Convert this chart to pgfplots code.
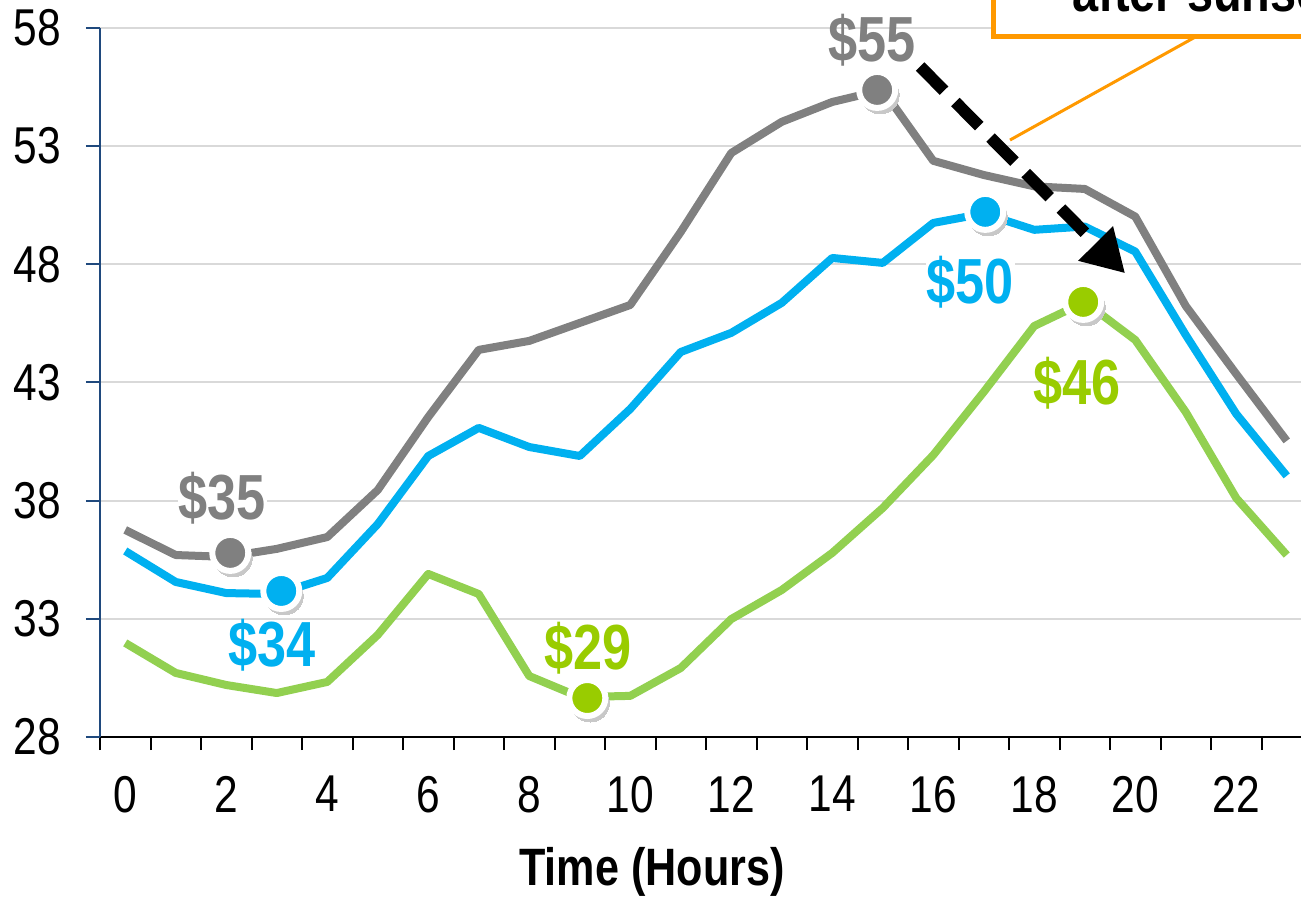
\documentclass[border=0pt]{standalone}
\usepackage{pgfplots}
\pgfplotsset{compat=1.18}
\usepackage{pgfplotstable}
\usepackage{fontspec}
\setmainfont{Liberation Sans}[FakeStretch=0.82]
\usetikzlibrary{arrows.meta}
\definecolor{cgray}{HTML}{808080}
\definecolor{cblue}{HTML}{00B0F0}
\definecolor{cgreen}{HTML}{92D050}
\definecolor{cgreenl}{HTML}{99CC00}
\definecolor{caxis}{HTML}{1F497D}
\definecolor{cgrid}{HTML}{D9D9D9}
\definecolor{corange}{HTML}{FF9900}
\definecolor{cshadow}{HTML}{C8C8C8}

\pgfplotstableread{
h v
0 36.76
1 35.70
2 35.62
3 35.96
4 36.46
5 38.45
6 41.54
7 44.38
8 44.76
9 45.52
10 46.28
11 49.37
12 52.71
13 54.03
14 54.87
15 55.38
16 52.38
17 51.78
18 51.30
19 51.19
20 50.02
21 46.24
22 43.36
23 40.53
}\graydata

\pgfplotstableread{
h v
0 35.87
1 34.56
2 34.09
3 34.05
4 34.73
5 37.01
6 39.89
7 41.08
8 40.27
9 39.89
10 41.88
11 44.29
12 45.10
13 46.37
14 48.27
15 48.06
16 49.75
17 50.15
18 49.46
19 49.60
20 48.54
21 45.01
22 41.67
23 39.05
}\bluedata

\pgfplotstableread{
h v
0 31.98
1 30.71
2 30.20
3 29.86
4 30.33
5 32.32
6 34.90
7 34.05
8 30.58
9 29.69
10 29.74
11 30.92
12 32.99
13 34.22
14 35.79
15 37.69
16 39.93
17 42.60
18 45.39
19 46.41
20 44.80
21 41.75
22 38.11
23 35.70
}\greendata

\pgfplotstableread{
h v
2.08 35.79
14.89 55.38
}\graymarks
\pgfplotstableread{
h v
3.09 34.18
17.03 50.22
}\bluemarks
\pgfplotstableread{
h v
9.15 29.65
18.97 46.41
}\greenmarks

\begin{document}
\begin{tikzpicture}
\begin{axis}[
  scale only axis, width=606bp, height=354.5bp,
  xmin=-0.5, xmax=23.5, ymin=28, ymax=58,
  axis x line*=bottom, axis y line*=left,
  x axis line style={black, line width=1bp},
  y axis line style={caxis, line width=1bp},
  xtick={0,2,...,22}, minor xtick={-0.5,0.5,...,23.5},
  ytick={28,33,...,58},
  tick align=outside,
  major tick length=7bp, minor tick length=6.5bp,
  every major x tick/.append style={draw=none},
  every minor x tick/.append style={black, line width=1bp},
  every major y tick/.append style={caxis, line width=1bp},
  ymajorgrids, grid style={cgrid, line width=1bp},
  tick label style={font=\fontsize{26}{28}\selectfont},
  yticklabel style={xshift=-9bp},
  xticklabel style={yshift=-9bp},
  /pgf/number format/assume math mode=true,
  xlabel={Time (Hours)},
  xlabel style={font=\fontsize{26.4}{30}\selectfont\bfseries, at={(axis description cs:0.4554,-0.1900)}, anchor=center},
  clip=false,
]
\addplot[cgray, no marks, line width=4bp, line join=round] table[x=h, y=v] {\graydata};
\addplot[cblue, no marks, line width=4bp, line join=round] table[x=h, y=v] {\bluedata};
\addplot[cgreen, no marks, line width=4bp, line join=round] table[x=h, y=v] {\greendata};

% marker shadows
\addplot[only marks, mark=*, mark size=9.5bp, mark options={xshift=1.5bp, yshift=-2.5bp, fill=cshadow, draw=cshadow, line width=0pt}] table[x=h, y=v] {\graymarks};
\addplot[only marks, mark=*, mark size=9.5bp, mark options={xshift=1.5bp, yshift=-2.5bp, fill=cshadow, draw=cshadow, line width=0pt}] table[x=h, y=v] {\bluemarks};
\addplot[only marks, mark=*, mark size=9.5bp, mark options={xshift=1.5bp, yshift=-2.5bp, fill=cshadow, draw=cshadow, line width=0pt}] table[x=h, y=v] {\greenmarks};

\addplot[only marks, mark=*, mark size=9bp, mark options={fill=cgray, draw=white, line width=3bp}] table[x=h, y=v] {\graymarks};
\addplot[only marks, mark=*, mark size=9bp, mark options={fill=cblue, draw=white, line width=3bp}] table[x=h, y=v] {\bluemarks};
\addplot[only marks, mark=*, mark size=9bp, mark options={fill=cgreenl, draw=white, line width=3bp}] table[x=h, y=v] {\greenmarks};

\node[text=cgray, fill=white, inner sep=0.5bp, font=\fontsize{32}{36}\selectfont\bfseries] at (axis cs:1.92,38.11) {\$35};
\node[text=cblue, inner sep=0.5bp, font=\fontsize{32}{36}\selectfont\bfseries] at (axis cs:2.91,31.89) {\$34};
\node[text=cgreenl, fill=white, inner sep=0.5bp, font=\fontsize{32}{36}\selectfont\bfseries] at (axis cs:9.17,31.77) {\$29};
\node[text=cgray, inner sep=0.5bp, font=\fontsize{32}{36}\selectfont\bfseries] at (axis cs:14.79,57.5) {\$55};
\node[text=cblue, fill=white, inner sep=0.5bp, font=\fontsize{32}{36}\selectfont\bfseries] at (axis cs:16.73,47.26) {\$50};
\node[text=cgreenl, inner sep=0.5bp, font=\fontsize{32}{36}\selectfont\bfseries] at (axis cs:18.85,42.98) {\$46};

\draw[black, line width=6bp, dash pattern=on 17bp off 8bp, -{Triangle[length=21bp,width=23bp]}] (axis cs:15.74,56.37) -- (axis cs:19.8,47.62);

\draw[corange, line width=1.5bp] (axis cs:17.52,53.26) -- (axis cs:21.19,57.62);
\draw[corange, line width=2.5bp, fill=white] (axis cs:17.19,57.66) rectangle (axis cs:25,62);
\node[anchor=base west, inner sep=0pt, font=\fontsize{28.7}{32}\selectfont\bfseries] at (axis cs:18.75,58.68) {after sunset};
\end{axis}
\pgfresetboundingbox
\useasboundingbox (-50bp,-80.5bp) rectangle (600.5bp,368.5bp);
\end{tikzpicture}
\end{document}
